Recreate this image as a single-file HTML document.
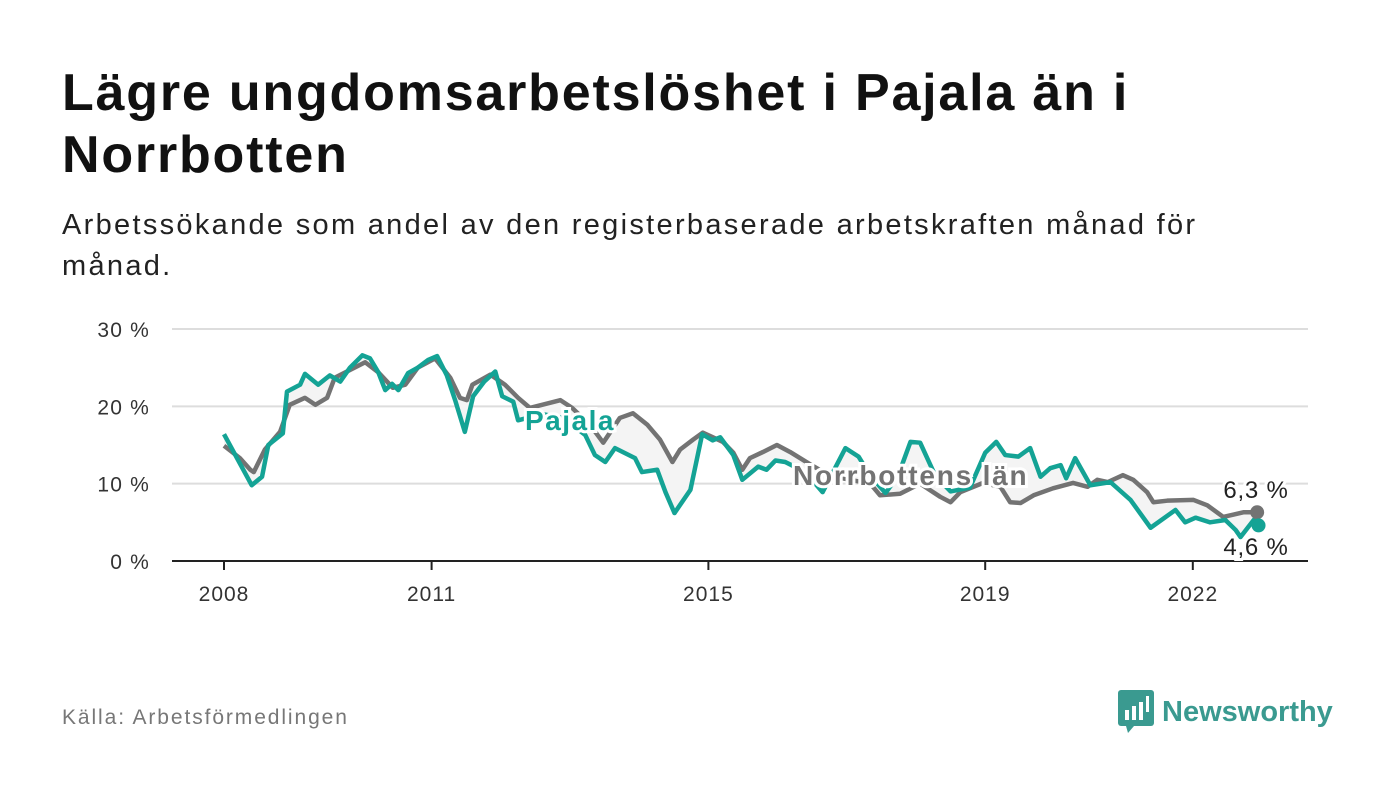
<!DOCTYPE html>
<html><head><meta charset="utf-8">
<style>
body{margin:0;background:#fff;width:1400px;height:794px;overflow:hidden;font-family:"Liberation Sans",sans-serif;}
h1{position:absolute;left:62px;top:62px;margin:0;font-size:52px;line-height:62px;font-weight:bold;color:#111;width:1110px;letter-spacing:1.8px;}
.sub{position:absolute;left:62px;top:205px;font-size:29px;line-height:41px;color:#222;width:1200px;letter-spacing:2.3px;}
.src{position:absolute;left:62px;top:706px;font-size:21px;color:#777;letter-spacing:1.9px;}
.logo{position:absolute;left:1118px;top:690px;display:flex;align-items:center;}
.logo span{font-size:29px;font-weight:bold;color:#3a9a90;margin-left:8px;}
</style></head><body>
<h1>Lägre ungdomsarbetslöshet i Pajala än i Norrbotten</h1>
<div class="sub">Arbetssökande som andel av den registerbaserade arbetskraften månad för månad.</div>
<svg id="chart" width="1400" height="794" style="position:absolute;left:0;top:0"></svg>
<div class="src">Källa: Arbetsförmedlingen</div>
<div class="logo">
<svg width="36" height="44" viewBox="0 0 36 44"><rect x="0" y="0" width="36" height="36" rx="3" fill="#3a9a90"/><polygon points="8,36 16,36 10,43" fill="#3a9a90"/><rect x="7" y="20" width="4" height="10" fill="#fff"/><rect x="14" y="16" width="4" height="14" fill="#fff"/><rect x="21" y="12" width="4" height="18" fill="#fff"/><rect x="28" y="6" width="3" height="16" fill="#fff"/></svg>
<span>Newsworthy</span></div>
<script>
const tickYears=[2008,2011,2015,2019,2022];
const yTicks=[0,10,20,30];
const pajYears=[2008.0,2008.40,2008.55,2008.64,2008.85,2008.91,2009.10,2009.17,2009.36,2009.53,2009.68,2009.82,2010.0,2010.11,2010.23,2010.33,2010.43,2010.52,2010.66,2010.80,2010.95,2011.08,2011.22,2011.34,2011.48,2011.60,2011.76,2011.92,2012.02,2012.18,2012.25,2012.6,2012.9,2013.22,2013.36,2013.51,2013.65,2013.94,2014.04,2014.26,2014.38,2014.51,2014.74,2014.91,2015.06,2015.17,2015.36,2015.49,2015.72,2015.84,2015.97,2016.11,2016.4,2016.65,2016.98,2017.17,2017.34,2017.56,2017.74,2017.92,2018.06,2018.28,2018.5,2018.78,2019.0,2019.16,2019.29,2019.48,2019.65,2019.80,2019.94,2020.09,2020.17,2020.30,2020.52,2020.81,2021.10,2021.39,2021.75,2021.89,2022.04,2022.25,2022.47,2022.62,2022.69,2022.88,2022.95];
const pajVals=[16.4,9.8,10.9,15.0,16.5,21.9,22.8,24.2,22.8,24.0,23.2,25.0,26.6,26.2,24.4,22.1,22.9,22.1,24.3,25.0,26.0,26.5,24.0,20.8,16.7,21.3,23.2,24.5,21.3,20.6,18.2,19.0,18.5,16.3,13.7,12.8,14.6,13.3,11.5,11.8,8.9,6.2,9.2,16.4,15.6,16.0,13.7,10.5,12.2,11.8,13.0,12.8,11.5,8.9,14.6,13.5,11.0,8.8,11.0,15.4,15.3,11.0,9.0,9.5,14.0,15.4,13.7,13.5,14.6,10.9,12.0,12.4,10.7,13.3,9.8,10.2,7.9,4.3,6.6,5.0,5.6,5.0,5.3,4.0,3.1,5.3,4.6];
const norYears=[2008.0,2008.23,2008.38,2008.43,2008.59,2008.81,2008.95,2009.17,2009.32,2009.49,2009.60,2009.82,2010.04,2010.23,2010.44,2010.62,2010.80,2011.05,2011.27,2011.41,2011.51,2011.59,2011.85,2012.06,2012.25,2012.42,2012.64,2012.86,2013.03,2013.29,2013.48,2013.72,2013.91,2014.12,2014.30,2014.48,2014.59,2014.78,2014.92,2015.21,2015.36,2015.49,2015.60,2015.79,2015.99,2016.18,2016.47,2016.76,2017.05,2017.34,2017.48,2017.77,2018.06,2018.35,2018.50,2018.64,2018.97,2019.22,2019.36,2019.51,2019.70,2019.98,2020.27,2020.48,2020.62,2020.77,2020.99,2021.14,2021.34,2021.43,2021.63,2022.01,2022.21,2022.44,2022.59,2022.73,2022.93];
const norVals=[14.9,13.3,11.8,11.5,14.4,16.7,20.2,21.1,20.2,21.1,23.7,24.7,25.7,24.4,22.4,22.8,25.0,26.2,23.7,21.1,20.8,22.8,24.1,22.8,21.1,19.8,20.3,20.8,19.8,17.6,15.3,18.5,19.1,17.6,15.7,12.8,14.4,15.7,16.6,15.4,14.0,11.8,13.3,14.1,15.0,14.1,12.5,11.0,10.5,10.0,8.5,8.7,10.0,8.3,7.6,8.9,10.1,9.6,7.6,7.5,8.5,9.4,10.1,9.6,10.5,10.2,11.1,10.5,8.9,7.6,7.8,7.9,7.2,5.7,6.0,6.3,6.3];
const NS='http://www.w3.org/2000/svg';
const svg=document.getElementById('chart');
const X=y=>224+(y-2008)*69.2;
const Y=v=>561-v*7.733;
function mk(t,a,p){const e=document.createElementNS(NS,t);for(const k in a)e.setAttribute(k,a[k]);(p||svg).appendChild(e);return e;}
yTicks.forEach(v=>{
 const g=mk('line',{x1:172,x2:1308,y1:Y(v),y2:Y(v),stroke:v===0?'#222':'#ddd','stroke-width':2});
 
 
 const t=mk('text',{x:150,y:Y(v)+8,'text-anchor':'end','font-size':21,'letter-spacing':1.2,fill:'#333','font-family':'Liberation Sans, sans-serif'});
 t.textContent=v+' %';
 
 
});
tickYears.forEach(y=>{
 const l=mk('line',{x1:X(y),x2:X(y),y1:561,y2:570,stroke:'#222','stroke-width':2});
 
 
 const t=mk('text',{x:X(y),y:601,'text-anchor':'middle','font-size':21,'letter-spacing':1,fill:'#333','font-family':'Liberation Sans, sans-serif'});
 t.textContent=y;
 
 
});
const pajPts=pajYears.map((y,i)=>[X(y),Y(pajVals[i])]);
const norPts=norYears.map((y,i)=>[X(y),Y(norVals[i])]);
const fill=mk('polygon',{points:pajPts.concat(norPts.slice().reverse()).map(p=>p.join(',')).join(' '),fill:'#f4f4f4'});


const nl=mk('polyline',{points:norPts.map(p=>p.join(',')).join(' '),fill:'none',stroke:'#737373','stroke-width':4.5,'stroke-linejoin':'round'});


const pl=mk('polyline',{points:pajPts.map(p=>p.join(',')).join(' '),fill:'none',stroke:'#14a395','stroke-width':4.5,'stroke-linejoin':'round'});


const nd=mk('circle',{cx:norPts[norPts.length-1][0],cy:norPts[norPts.length-1][1],r:7,fill:'#737373'});


const pd=mk('circle',{cx:pajPts[pajPts.length-1][0],cy:pajPts[pajPts.length-1][1],r:7,fill:'#14a395'});


function lab(txt,x,y,col,size,bold,ls,anchor,name){
 const t=mk('text',{x:x,y:y,'font-size':size,'letter-spacing':ls,'font-weight':bold?'bold':'normal',fill:col,'text-anchor':anchor,stroke:'#fff','stroke-width':6,'paint-order':'stroke','font-family':'Liberation Sans, sans-serif'});
 t.textContent=txt;
 
 
}
lab('Pajala',525,430,'#14a395',28,true,1.5,'start','pajala-label');
lab('Norrbottens län',793,485,'#737373',28,true,1.8,'start','norrbotten-label');
lab('6,3 %',1256,498,'#222',24,false,0.8,'middle','norrbotten-end-value');
lab('4,6 %',1256,555,'#222',24,false,0.8,'middle','pajala-end-value');
</script>
</body></html>
